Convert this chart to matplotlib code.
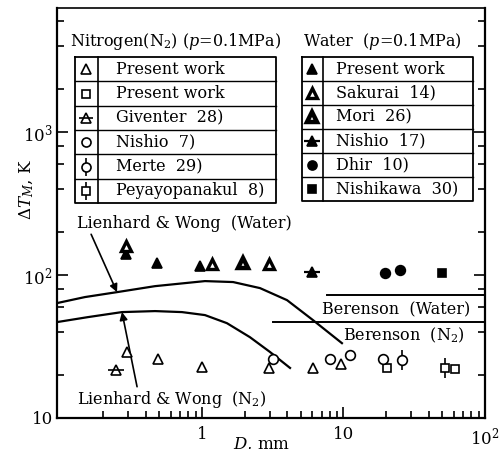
import matplotlib
matplotlib.use("Agg")
import matplotlib.pyplot as plt
from matplotlib.ticker import FixedLocator, LogLocator, NullFormatter

plt.rcParams.update({"font.family": "DejaVu Serif", "mathtext.fontset": "dejavuserif"})
W, H = 503, 449

# ---- data (D in mm, dT_M in K) ----
n2_present_tri_d = [0.295, 0.49, 1.0, 2.97, 6.1, 9.6]
n2_present_tri_t = [29.0, 25.9, 22.7, 22.4, 22.4, 23.9]
n2_present_sq_d = [20.3, 61.4]
n2_present_sq_t = [22.4, 22.0]
giventer_d = [0.247]
giventer_t = [21.7]
nishio_n2_d = [3.18, 8.0, 11.1, 19.0]
nishio_n2_t = [25.9, 25.9, 27.6, 25.9]
merte_d = [25.9]
merte_t = [25.5]
peya_d = [52.0]
peya_t = [22.4]

w_present_d = [0.29, 0.48, 0.97]
w_present_t = [140.0, 121.0, 116.0]
sakurai_d = [0.29, 1.18, 2.97]
sakurai_t = [160.0, 119.0, 119.0]
mori_d = [1.95]
mori_t = [121.0]
nishio_w_d = [6.0]
nishio_w_t = [105.0]
dhir_d = [19.6, 25.0]
dhir_t = [103.0, 108.5]
nishikawa_d = [49.5]
nishikawa_t = [103.0]

lw_water_d = [0.0945, 0.149, 0.251, 0.466, 1.05, 1.66, 2.57, 3.99, 6.09, 9.75]
lw_water_t = [63.7, 70.2, 76.0, 83.7, 90.8, 89.4, 81.1, 66.8, 48.4, 33.4]
lw_n2_d = [0.0945, 0.156, 0.272, 0.466, 0.722, 1.05, 1.50, 2.18, 3.02, 4.19]
lw_n2_t = [46.9, 50.8, 55.1, 56.0, 55.1, 52.5, 46.1, 36.8, 29.0, 22.4]
ber_water_d = [7.64, 100]
ber_water_t = [72.4, 72.4]
ber_n2_d = [3.18, 100]
ber_n2_t = [46.9, 46.9]

n2_legend = ["Present work", "Present work", "Giventer  28)", "Nishio  7)",
             "Merte  29)", "Peyayopanakul  8)"]
w_legend = ["Present work", "Sakurai  14)", "Mori  26)", "Nishio  17)",
            "Dhir  10)", "Nishikawa  30)"]
n2_kinds = ["tri", "sq", "giv", "circ", "merte", "peya"]
w_kinds = ["trif", "sak", "mori", "nis17", "circf", "sqf"]


def mark(a, x, y, kind, ms=7):
    k = dict(ls="none", mec="black", zorder=4, clip_on=False)
    if kind == "tri":
        a.plot(x, y, "^", ms=ms, mfc="white", mew=1.2, **k)
    elif kind == "sq":
        a.plot(x, y, "s", ms=ms * 0.9, mfc="white", mew=1.2, **k)
    elif kind == "giv":
        a.plot(x, y, "_", ms=ms * 1.6, color="black", mew=1.2, **k)
        a.plot(x, y, "^", ms=ms, mfc="none", mew=1.2, **k)
    elif kind == "circ":
        a.plot(x, y, "o", ms=ms, mfc="white", mew=1.2, **k)
    elif kind == "merte":
        a.plot(x, y, "|", ms=ms * 2.0, color="black", mew=1.2, **k)
        a.plot(x, y, "o", ms=ms, mfc="white", mew=1.2, **k)
    elif kind == "peya":
        a.plot(x, y, "|", ms=ms * 2.0, color="black", mew=1.2, **k)
        a.plot(x, y, "s", ms=ms * 0.9, mfc="white", mew=1.2, **k)
    elif kind == "trif":
        a.plot(x, y, "^", ms=ms, mfc="black", mew=1.2, **k)
    elif kind == "sak":
        a.plot(x, y, "^", ms=ms, mfc="white", mew=2.4, **k)
    elif kind == "mori":
        a.plot(x, y, "^", ms=ms, mfc="white", mew=3.2, **k)
    elif kind == "nis17":
        a.plot(x, y, "_", ms=ms * 1.7, color="black", mew=1.6, **k)
        a.plot(x, y, "^", ms=ms, mfc="black", mew=1.2, **k)
    elif kind == "circf":
        a.plot(x, y, "o", ms=ms, mfc="black", mew=1.2, **k)
    elif kind == "sqf":
        a.plot(x, y, "s", ms=ms * 0.9, mfc="black", mew=1.2, **k)


fig = plt.figure(figsize=(W / 100, H / 100), dpi=100)
ax = fig.add_axes([57 / W, 1 - 418 / H, 428 / W, 410 / H])
ax.set_xscale("log"); ax.set_yscale("log")
ax.set_xlim(0.0945, 100); ax.set_ylim(10, 7400)

ax.plot(lw_water_d, lw_water_t, color="black", lw=1.6)
ax.plot(lw_n2_d, lw_n2_t, color="black", lw=1.6)
ax.plot(ber_water_d, ber_water_t, color="black", lw=1.4)
ax.plot(ber_n2_d, ber_n2_t, color="black", lw=1.4)

for d, t, kd in [(n2_present_tri_d, n2_present_tri_t, "tri"), (n2_present_sq_d, n2_present_sq_t, "sq"),
                 (giventer_d, giventer_t, "giv"), (nishio_n2_d, nishio_n2_t, "circ"),
                 (merte_d, merte_t, "merte"), (peya_d, peya_t, "peya"),
                 (w_present_d, w_present_t, "trif"), (sakurai_d, sakurai_t, "sak"),
                 (mori_d, mori_t, "mori"), (nishio_w_d, nishio_w_t, "nis17"),
                 (dhir_d, dhir_t, "circf"), (nishikawa_d, nishikawa_t, "sqf")]:
    mark(ax, d, t, kd)

fs = 11.5
ax.annotate("Lienhard & Wong  (Water)", xy=(lw_water_d[2], lw_water_t[2]), xytext=(77 / W, 1 - 223 / H),
            xycoords="data", textcoords="figure fraction", fontsize=fs, va="center", ha="left",
            arrowprops=dict(arrowstyle="-|>", color="black", lw=1.2, shrinkA=0, shrinkB=0,
                            relpos=(0.06, 0.0)))
ax.annotate("Lienhard & Wong  (N$_2$)", xy=(lw_n2_d[2], lw_n2_t[2]), xytext=(77 / W, 1 - 400 / H),
            xycoords="data", textcoords="figure fraction", fontsize=fs, va="center", ha="left",
            arrowprops=dict(arrowstyle="-|>", color="black", lw=1.2, shrinkA=0, shrinkB=0,
                            relpos=(0.32, 1.0)))
fig.text(470 / W, 1 - 310 / H, "Berenson  (Water)", fontsize=fs, ha="right", va="center")
fig.text(465 / W, 1 - 335 / H, "Berenson  (N$_2$)", fontsize=fs, ha="right", va="center")

ax.xaxis.set_major_locator(FixedLocator([1, 10, 100]))
ax.set_xticklabels(["1", "10", "$10^2$"])
ax.yaxis.set_major_locator(FixedLocator([10, 100, 1000]))
ax.set_yticklabels(["10", "$10^2$", "$10^3$"])
ax.xaxis.set_minor_locator(LogLocator(subs=[2, 3, 4, 5, 6, 7, 8, 9]))
ax.yaxis.set_minor_locator(LogLocator(subs=[2, 4, 6, 8]))
ax.xaxis.set_minor_formatter(NullFormatter()); ax.yaxis.set_minor_formatter(NullFormatter())
ax.tick_params(which="both", direction="in", right=True, top=False, labelsize=12, width=1.2)
ax.tick_params(which="major", length=8, pad=3)
ax.tick_params(axis="x", which="major", pad=6)
ax.tick_params(which="minor", length=5)
for s in ax.spines.values():
    s.set_linewidth(1.6)
ax.spines["top"].set_linewidth(1.2)

fig.text(27 / W, 1 - 190 / H, r"$\Delta T_M$, K", rotation=90, fontsize=12, ha="center", va="center")
fig.text(262 / W, 1 - 436 / H, r"$D$, mm", fontsize=12, ha="center", va="top")

# ---- the two symbol tables ----
ov = fig.add_axes([0, 0, 1, 1], zorder=5)
ov.set_xlim(0, W); ov.set_ylim(H, 0); ov.axis("off")


def table(x0, x1, xd, top, bot, labels, kinds, header, hx, tx):
    ov.text(hx, 42, header, fontsize=fs, va="center", ha="left")
    n = len(labels)
    rh = (bot - top) / n
    ov.plot([x0, x1, x1, x0, x0], [top, top, bot, bot, top], color="black", lw=1.3)
    ov.plot([xd, xd], [top, bot], color="black", lw=1.2)
    for i in range(1, n):
        ov.plot([x0, x1], [top + i * rh] * 2, color="black", lw=1.0)
    for i, (lab, kd) in enumerate(zip(labels, kinds)):
        yc = top + (i + 0.5) * rh
        mark(ov, (x0 + xd) / 2, yc, kd, ms=6.5)
        ov.text(tx, yc, lab, fontsize=fs, va="center", ha="left")


table(75, 276, 98, 57, 203, n2_legend, n2_kinds, "Nitrogen(N$_2$) ($p$=0.1MPa)", 70, 116)
table(302, 473, 323, 57, 201, w_legend, w_kinds, "Water  ($p$=0.1MPa)", 303, 336)

fig.savefig("out.png", dpi=100, facecolor="white")
